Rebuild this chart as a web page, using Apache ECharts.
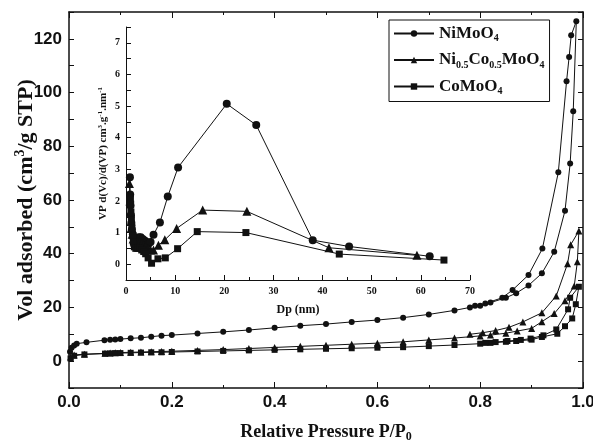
<!DOCTYPE html>
<html>
<head>
<meta charset="UTF-8">
<style>
  html, body { margin: 0; padding: 0; width: 100%; height: 100%; overflow: hidden; background: #fff; }
  #chart { width: 593px; height: 441px; }
</style>
<script src="https://cdn.jsdelivr.net/npm/echarts@6/dist/echarts.min.js"></script>
</head>
<body>
<div id="chart"></div>
<script>
// N2 isotherms: [P/P0, volume] for adsorption and desorption branches
var niAds = [[0.002,3.5],[0.005,5.0],[0.01,5.8],[0.015,6.5],[0.034,7.0],[0.069,7.8],[0.08,8.0],[0.09,8.1],[0.1,8.2],[0.12,8.5],[0.14,8.7],[0.16,9.1],[0.18,9.5],[0.2,9.7],[0.25,10.3],[0.3,10.9],[0.35,11.6],[0.4,12.4],[0.45,13.2],[0.5,13.8],[0.55,14.6],[0.6,15.3],[0.65,16.2],[0.7,17.4],[0.75,18.9],[0.78,20.0],[0.8,20.6],[0.82,21.8],[0.85,23.6],[0.87,25.3],[0.894,28.2],[0.92,32.7],[0.944,40.7],[0.965,56],[0.975,73.6],[0.981,93],[0.987,126.6]];
var niDes = [[0.977,121.3],[0.973,113.2],[0.968,104.2],[0.952,70.3],[0.921,41.9],[0.894,32.1],[0.863,26.5],[0.843,23.6],[0.81,21.5],[0.79,20.6]];
var mixAds = [[0.003,1.5],[0.01,2.3],[0.03,2.6],[0.07,2.9],[0.08,3.0],[0.09,3.1],[0.1,3.2],[0.12,3.3],[0.14,3.4],[0.16,3.5],[0.18,3.6],[0.2,3.7],[0.25,4.0],[0.3,4.3],[0.35,4.7],[0.4,5.1],[0.45,5.5],[0.5,5.9],[0.55,6.3],[0.6,6.7],[0.65,7.2],[0.7,7.9],[0.75,8.6],[0.8,9.4],[0.82,9.7],[0.85,10.4],[0.872,11.2],[0.9,12.2],[0.92,14.7],[0.944,17.7],[0.965,22.5],[0.983,28],[0.989,37],[0.992,48.5]];
var mixDes = [[0.976,43.3],[0.97,36.3],[0.948,24.3],[0.92,18.0],[0.883,14.6],[0.856,12.6],[0.83,11.4],[0.805,10.6],[0.78,10.0]];
var coAds = [[0.003,1.0],[0.01,2.0],[0.03,2.5],[0.07,2.8],[0.08,2.9],[0.09,3.0],[0.1,3.0],[0.12,3.1],[0.14,3.2],[0.16,3.3],[0.18,3.3],[0.2,3.4],[0.25,3.6],[0.3,3.8],[0.35,4.0],[0.4,4.2],[0.45,4.4],[0.5,4.6],[0.55,4.8],[0.6,5.0],[0.65,5.2],[0.7,5.6],[0.75,6.0],[0.8,6.5],[0.82,6.8],[0.85,7.2],[0.87,7.5],[0.9,8.0],[0.92,9.0],[0.95,10.2],[0.965,13.0],[0.979,15.9],[0.986,21.2],[0.992,27.7]];
var coDes = [[0.975,23.6],[0.971,19.3],[0.948,11.8],[0.923,9.6],[0.898,8.4],[0.879,7.9],[0.853,7.5],[0.83,7.1],[0.81,6.8]];

// pore size distribution (inset): [Dp nm, dV]
var niPsd = [[0.8,2.75],[0.85,2.2],[0.9,1.85],[1.0,1.55],[1.1,1.3],[1.2,1.1],[1.4,0.95],[1.6,0.85],[1.9,0.8],[2.2,0.8],[2.6,0.85],[3.0,0.85],[3.4,0.8],[3.8,0.75],[4.2,0.7],[4.6,0.65],[5.0,0.7],[5.6,0.93],[6.9,1.32],[8.5,2.14],[10.6,3.06],[20.5,5.07],[26.5,4.4],[38.0,0.76],[45.4,0.56],[61.8,0.25]];
var mixPsd = [[0.7,2.55],[0.8,2.0],[0.9,1.65],[1.0,1.35],[1.1,1.15],[1.25,0.95],[1.45,0.8],[1.7,0.7],[2.0,0.65],[2.4,0.7],[2.8,0.7],[3.2,0.65],[3.6,0.6],[4.0,0.55],[4.5,0.5],[5.0,0.45],[5.6,0.45],[6.6,0.6],[7.9,0.77],[10.3,1.13],[15.6,1.71],[24.6,1.67],[41.3,0.52],[59.2,0.28]];
var coPsd = [[0.9,2.1],[0.95,1.9],[1.0,1.65],[1.1,1.4],[1.2,1.15],[1.35,0.9],[1.5,0.7],[1.7,0.55],[2.0,0.5],[2.4,0.5],[2.8,0.5],[3.2,0.45],[3.6,0.4],[4.0,0.33],[4.5,0.2],[5.2,0.03],[6.5,0.17],[8.0,0.2],[10.5,0.49],[14.5,1.03],[24.4,1.0],[43.4,0.32],[64.7,0.13]];

var names = ['NiMoO4', 'Ni0.5Co0.5MoO4', 'CoMoO4'];
var symbols = ['circle', 'triangle', 'rect'];
var legendRich = {
  'NiMoO4': '{m|NiMoO}{s|4}',
  'Ni0.5Co0.5MoO4': '{m|Ni}{s|0.5}{m|Co}{s|0.5}{m|MoO}{s|4}',
  'CoMoO4': '{m|CoMoO}{s|4}'
};

var serif = 'Liberation Serif';
var sans = 'Liberation Sans';
var black = '#111';

var chart = echarts.init(document.getElementById('chart'));

function mainSeries(i, data, size) {
  return {
    name: names[i], type: 'line', xAxisIndex: 0, yAxisIndex: 0,
    data: data, symbol: symbols[i], symbolSize: size, showSymbol: true,
    lineStyle: { color: black, width: 1 }, itemStyle: { color: black },
    animation: false
  };
}
function insetSeries(i, data, size) {
  return {
    name: names[i], type: 'line', xAxisIndex: 2, yAxisIndex: 2,
    data: data, symbol: symbols[i], symbolSize: size,
    lineStyle: { color: black, width: 1 }, itemStyle: { color: black },
    animation: false
  };
}

var boxAxis = {
  axisLine: { show: true, onZero: false, lineStyle: { color: black, width: 1.5 } },
  axisTick: { show: true, inside: true, length: 5, lineStyle: { color: black, width: 1 } },
  splitLine: { show: false },
  nameMoveOverlap: false
};

chart.setOption({
  backgroundColor: '#fff',
  animation: false,
  grid: [
    { left: 69, right: 10, top: 12, bottom: 53, outerBoundsMode: 'none', containLabel: false },
    { left: 126, right: 123, top: 27, bottom: 161, outerBoundsMode: 'none', containLabel: false }
  ],
  legend: {
    data: names,
    orient: 'vertical',
    left: 389, top: 20,
    padding: [5, 5, 5, 4],
    itemGap: 8,
    itemWidth: 40, itemHeight: 8,
    borderColor: black, borderWidth: 1,
    formatter: function (n) { return legendRich[n]; },
    textStyle: {
      color: black,
      rich: {
        m: { fontFamily: serif, fontWeight: 'bold', fontSize: 17, color: black },
        s: { fontFamily: serif, fontWeight: 'bold', fontSize: 10, color: black, padding: [10, 0, 0, 0] }
      }
    }
  },
  xAxis: [
    Object.assign({}, boxAxis, {
      type: 'value', gridIndex: 0, min: 0, max: 1, interval: 0.2,
      minorTick: { show: true, splitNumber: 2, length: 3, lineStyle: { color: black } },
      axisTick: Object.assign({}, boxAxis.axisTick, { length: 6 }),
      axisLabel: { fontFamily: sans, fontWeight: 'bold', fontSize: 17, color: black, margin: 6,
        formatter: function (v) { return v.toFixed(1); } },
      name: '{t|Relative Pressure P/P}{s|0}', nameLocation: 'middle', nameGap: 33,
      nameTextStyle: { rich: {
        t: { fontFamily: serif, fontWeight: 'bold', fontSize: 18, color: black },
        s: { fontFamily: serif, fontWeight: 'bold', fontSize: 12, color: black, padding: [10, 0, 0, 0] }
      } }
    }),
    Object.assign({}, boxAxis, {
      type: 'value', gridIndex: 0, position: 'top', min: 0, max: 1, interval: 0.2,
      minorTick: { show: true, splitNumber: 2, length: 3, lineStyle: { color: black } },
      axisTick: Object.assign({}, boxAxis.axisTick, { length: 6 }),
      axisLabel: { show: false }
    }),
    {
      type: 'value', gridIndex: 1, min: 0, max: 70, interval: 10,
      axisLine: { show: true, onZero: false, lineStyle: { color: black, width: 1 } },
      axisTick: { show: true, inside: true, length: 5, lineStyle: { color: black } },
      minorTick: { show: true, splitNumber: 2, length: 3, lineStyle: { color: black } },
      splitLine: { show: false },
      axisLabel: { fontFamily: serif, fontWeight: 'bold', fontSize: 10, color: black, margin: 6 },
      name: 'Dp (nm)', nameLocation: 'middle', nameGap: 24, nameMoveOverlap: false,
      nameTextStyle: { fontFamily: serif, fontWeight: 'bold', fontSize: 12, color: black }
    }
  ],
  yAxis: [
    Object.assign({}, boxAxis, {
      type: 'value', gridIndex: 0, min: -10, max: 130, interval: 10,
      axisLabel: { fontFamily: sans, fontWeight: 'bold', fontSize: 17, color: black, margin: 7,
        formatter: function (v) { return v % 20 === 0 ? String(v) : ''; } },
      name: '{t|Vol adsorbed (cm}{p|3}{t|/g STP)}', nameLocation: 'middle', nameGap: 30,
      nameTextStyle: { rich: {
        t: { fontFamily: serif, fontWeight: 'bold', fontSize: 22, color: black },
        p: { fontFamily: serif, fontWeight: 'bold', fontSize: 14, color: black, padding: [0, 0, 12, 0] }
      } }
    }),
    Object.assign({}, boxAxis, {
      type: 'value', gridIndex: 0, position: 'right', min: -10, max: 130, interval: 10,
      axisLabel: { show: false }
    }),
    {
      type: 'value', gridIndex: 1, min: -0.5, max: 7.5, interval: 0.5,
      axisLine: { show: true, onZero: false, lineStyle: { color: black, width: 1 } },
      axisTick: { show: true, inside: true, length: 5, lineStyle: { color: black } },
      splitLine: { show: false },
      axisLabel: { fontFamily: serif, fontWeight: 'bold', fontSize: 10, color: black, margin: 6,
        formatter: function (v) { return Number.isInteger(v) ? String(v) : ''; } },
      name: '{t|VP d(Vc)/d(VP) cm}{p|3}{t|.g}{p|-1}{t|.nm}{p|-1}', nameLocation: 'middle', nameGap: 16,
      nameMoveOverlap: false,
      nameTextStyle: { rich: {
        t: { fontFamily: serif, fontWeight: 'bold', fontSize: 11, color: black },
        p: { fontFamily: serif, fontWeight: 'bold', fontSize: 7, color: black, padding: [0, 0, 6, 0] }
      } }
    }
  ],
  series: [
    mainSeries(0, niAds.concat(niDes), 6),
    mainSeries(1, mixAds.concat(mixDes), 7),
    mainSeries(2, coAds.concat(coDes), 6),
    insetSeries(0, niPsd, 8),
    insetSeries(1, mixPsd, 9),
    insetSeries(2, coPsd, 7)
  ]
});
</script>
</body>
</html>
